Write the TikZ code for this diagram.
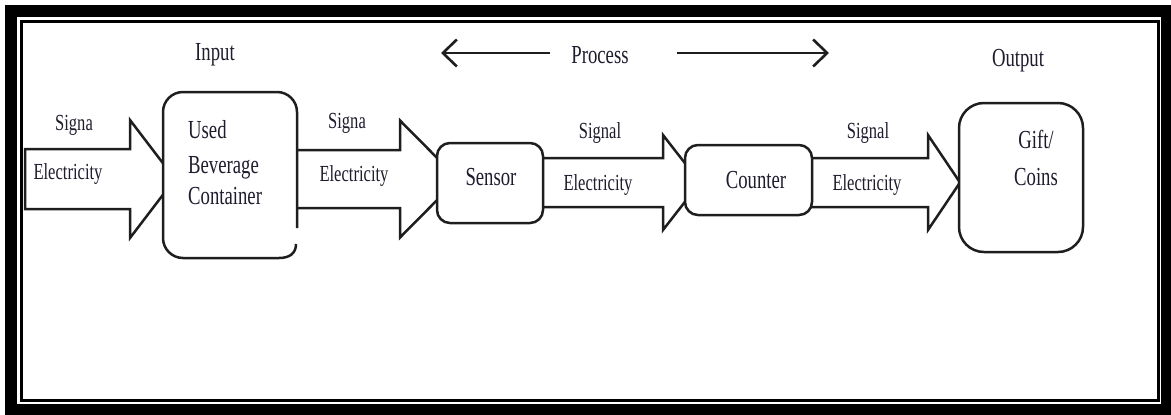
\documentclass[tikz,border=0pt]{standalone}
\usepackage{fontspec}
\setmainfont{Liberation Serif}[FakeStretch=0.72]
\usetikzlibrary{arrows.meta,backgrounds}
\definecolor{txt}{RGB}{30,28,45}
\definecolor{ln}{RGB}{30,30,30}
\tikzset{
  lbl/.style={font=\fontsize{23}{27}\selectfont, text=txt, inner sep=0pt, anchor=base},
  big/.style={font=\fontsize{26}{34}\selectfont, text=txt, inner sep=0pt, anchor=base},
  boxline/.style={draw=ln, line width=2.5pt},
  blockbox/.style={boxline, fill=white},
  barrowst/.style={draw=ln, line width=2.5pt, fill=white, line join=miter},
  procline/.style={draw=ln, line width=2.6pt, -{Straight Barb[length=14pt,width=27pt]}}
}
\newcommand\blockarr[6]{% start x, head x, tip x, centre y, shaft half, head half
  \draw[barrowst] (#1,#4-#5) -- (#2,#4-#5) -- (#2,#4-#6) -- (#3,#4) -- (#2,#4+#6) -- (#2,#4+#5) -- (#1,#4+#5) -- cycle;}
\begin{document}
\begin{tikzpicture}[x=1pt,y=-1pt]
\useasboundingbox (0,0) rectangle (1171,415);
% frame
\draw[line width=12pt, black] (11,11) rectangle (1167,410);
\draw[line width=3pt, black] (21.5,21.5) rectangle (1158.5,400);

% boxes
\node[minimum width=134pt, minimum height=166pt, fill=white, rounded corners=20pt, inner sep=0pt] (ubc) at (230,175) {};
\draw[boxline, rounded corners=20pt] (297,228) -- (297,92) -- (163,92) -- (163,258) -- (279,258);
\draw[boxline] (279,258) .. controls (290,258) and (296,253) .. (296,244);
\node[blockbox, rounded corners=13pt, minimum width=106pt, minimum height=80pt, inner sep=0pt] (sensor) at (490,183) {};
\node[blockbox, rounded corners=13pt, minimum width=127pt, minimum height=70pt, inner sep=0pt] (counter) at (748.5,180) {};
\node[blockbox, rounded corners=25pt, minimum width=124pt, minimum height=149pt, inner sep=0pt] (gift) at (1021,177.5) {};

% block arrows (behind boxes)
\begin{scope}[on background layer]
\blockarr{25}{130}{175}{179}{30}{59}
\blockarr{290}{400}{458}{179}{29}{58.5}
\blockarr{540}{663}{700}{182.5}{24.5}{47.5}
\blockarr{808}{928}{960}{182.5}{24.5}{47.5}
\end{scope}

% process arrows
\coordinate (pl1) at (550,53);
\coordinate (pl2) at (441,53);
\coordinate (pr1) at (677,53);
\coordinate (pr2) at (829,53);
\draw[procline] (pl1) -- (pl2);
\draw[procline] (pr1) -- (pr2);

% texts
\node[big] (input) at (215,60) {Input};
\node[big] (process) at (600,63) {Process};
\node[big] (output) at (1018,66) {Output};

\node[lbl] (s1) at (74,130) {Signa};
\node[lbl] (e1) at (68,179) {Electricity};
\node[lbl] (s2) at (347,128) {Signa};
\node[lbl] (e2) at (354,181) {Electricity};
\node[lbl] (s3) at (600,138) {Signal};
\node[lbl] (e3) at (598,190) {Electricity};
\node[lbl] (s4) at (868,138) {Signal};
\node[lbl] (e4) at (867,190) {Electricity};

\node[big, anchor=base west] (t1) at (188,138) {Used};
\node[big, anchor=base west] (t2) at (188,173) {Beverage};
\node[big, anchor=base west] (t3) at (188,204) {Container};
\node[big] (tsensor) at (491,185) {Sensor};
\node[big] (tcounter) at (756,188) {Counter};
\node[big] (tgift) at (1036,148) {Gift/};
\node[big] (tcoins) at (1036,185) {Coins};
\end{tikzpicture}
\end{document}
